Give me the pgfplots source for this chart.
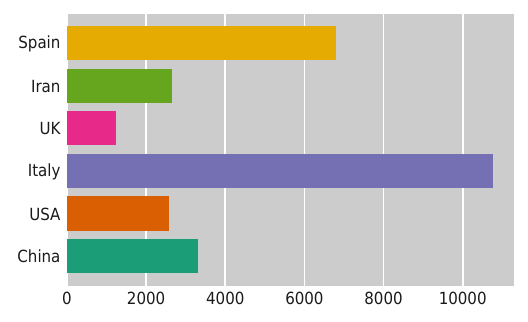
\documentclass[border=0pt]{standalone}
\usepackage{fontspec}
\setmainfont{DejaVu Sans Condensed}
\usepackage{pgfplots}
\pgfplotsset{compat=1.18}
\definecolor{bg}{HTML}{CCCCCC}
\definecolor{cChina}{HTML}{1B9E77}
\definecolor{cUSA}{HTML}{D95F02}
\definecolor{cItaly}{HTML}{7570B3}
\definecolor{cUK}{HTML}{E7298A}
\definecolor{cIran}{HTML}{66A61E}
\definecolor{cSpain}{HTML}{E6AB02}
\definecolor{txt}{HTML}{1A1A1A}
\begin{document}
\begin{tikzpicture}
\begin{axis}[
  name=ax,
  scale only axis,
  width=447bp, height=272bp,
  xbar, bar width=0.8, bar shift=0pt,
  xmin=0, xmax=11296,
  ymin=-0.70, ymax=5.68,
  ytick={0,1,2,3,4,5},
  yticklabels={China,USA,Italy,UK,Iran,Spain},
  xtick={0,2000,4000,6000,8000,10000},
  scaled x ticks=false,
  /pgf/number format/assume math mode=true,
  /pgf/number format/1000 sep={},
  axis line style={draw=none},
  major tick length=0pt,
  tick style={draw=none},
  axis background/.style={fill=bg},
  xmajorgrids, grid style={white, line width=1.6bp},
  tick label style={font=\fontsize{16.8}{20}\selectfont, text=txt},
  xticklabel style={yshift=-3bp},
  yticklabel style={xshift=-3bp, yshift=-0.5bp},
  clip=false,
]
\addplot[fill=cChina, draw=none] coordinates {(3311,0)};
\addplot[fill=cUSA, draw=none] coordinates {(2578,1)};
\addplot[fill=cItaly, draw=none] coordinates {(10766,2)};
\addplot[fill=cUK, draw=none] coordinates {(1238,3)};
\addplot[fill=cIran, draw=none] coordinates {(2654,4)};
\addplot[fill=cSpain, draw=none] coordinates {(6798,5)};
\end{axis}
\pgfresetboundingbox
\path[use as bounding box] ([shift={(-67bp,-36bp)}]ax.south west) rectangle ([shift={(14bp,14bp)}]ax.north east);
\end{tikzpicture}
\end{document}
